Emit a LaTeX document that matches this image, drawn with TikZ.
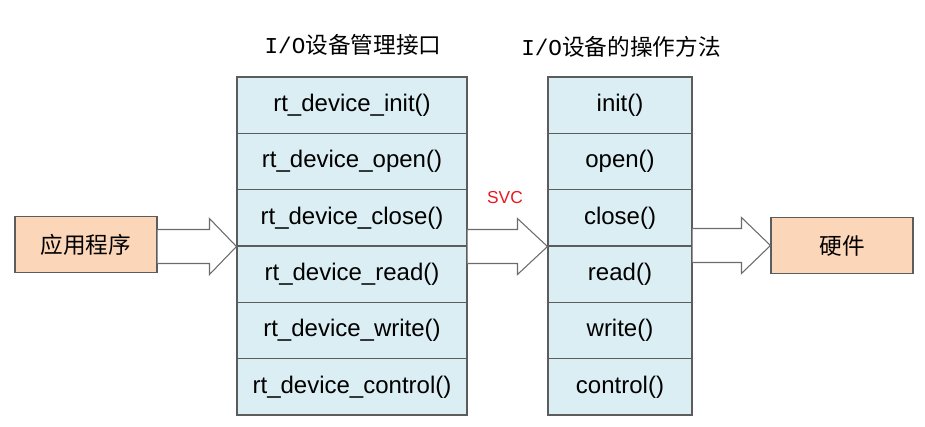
\documentclass[tikz,border=0pt]{standalone}
\usepackage{fontspec}
\setmainfont{Liberation Sans}
\newfontfamily\cjk{Noto Sans CJK SC}
\newfontfamily\mono{Liberation Mono}
\usetikzlibrary{calc,positioning}
\definecolor{cellblue}{HTML}{DBEEF4}
\definecolor{peach}{HTML}{FBD6B8}
\definecolor{edgegray}{HTML}{5C5C5C}
\definecolor{svcred}{HTML}{E8191F}
\begin{document}
\begin{tikzpicture}[x=0.75pt, y=-0.75pt]
\tikzstyle{cell}=[draw=edgegray, fill=cellblue, line width=0.8pt,
                  minimum height=42.25pt, inner sep=0pt, font=\fontsize{18}{20}\selectfont]
\tikzstyle{ends}=[draw=edgegray, fill=peach, line width=0.8pt, minimum width=106.5pt,
                  minimum height=42.5pt, inner sep=0pt, font=\cjk\fontsize{17}{19}\selectfont]
\tikzstyle{ttl}=[inner sep=0pt, font=\fontsize{17}{19}\selectfont]
\tikzstyle{blk}=[draw=gray!85!black, line width=0.8pt, line join=miter, fill=white]
\useasboundingbox (0,0) rectangle (925,427);
% call stacks
\foreach \t [count=\i] in {rt\_device\_init(),rt\_device\_open(),rt\_device\_close(),
    rt\_device\_read(),rt\_device\_write(),rt\_device\_control()}
  {\node[cell, minimum width=172.5pt] (L\i) at (352, {105.17+56.33*(\i-1)}) {\t};}
\foreach \t [count=\i] in {init(),open(),close(),read(),write(),control()}
  {\node[cell, minimum width=108pt] (R\i) at (620, {105.17+56.33*(\i-1)}) {\t};}
\node[ttl] (mgr) at (353, 45) {{\mono I/O}{\cjk 设备管理接口}};
\node[ttl] (ops) at (621, 47) {{\mono I/O}{\cjk 设备的操作方法}};
% outer boxes
\node[ends] (app) at (86, 244.5) {应用程序};
\node[ends] (hw) at (842, 245.5) {硬件};
\node[text=svcred, inner sep=0pt, font=\fontsize{13}{15}\selectfont] (svc) at (505, 198) {SVC};
% block arrows
\foreach \a/\b/\h in {app.east/L3.south west/27, L3.south east/R3.south west/30, R3.south east/hw.west/29}
  {\draw[blk] ($(\a |- \b)+(0,-17)$) -- ($(\b)+(-\h,-17)$) -- ($(\b)+(-\h,-28)$) -- (\b)
     -- ($(\b)+(-\h,28)$) -- ($(\b)+(-\h,17)$) -- ($(\a |- \b)+(0,17)$);}
\end{tikzpicture}
\end{document}
